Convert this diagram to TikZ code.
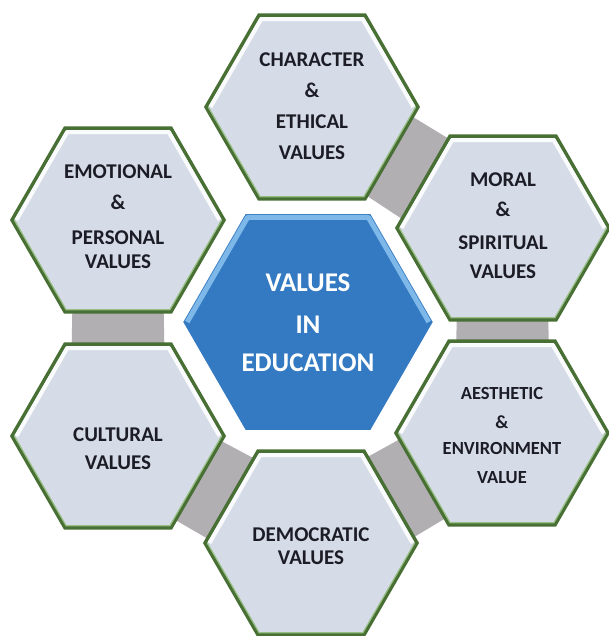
\documentclass[tikz,border=0pt]{standalone}
\usepackage{fontspec}
\setmainfont{Carlito}
\usetikzlibrary{shapes.geometric,calc,backgrounds}
\definecolor{hexfill}{RGB}{214,220,231}
\definecolor{hexline}{RGB}{72,112,52}
\definecolor{hexline2}{RGB}{150,190,130}
\definecolor{cblue}{RGB}{52,122,194}
\definecolor{cbluelight}{RGB}{140,195,240}
\definecolor{bandgray}{RGB}{178,175,178}
\definecolor{txt}{RGB}{28,28,38}
\begin{document}
\begin{tikzpicture}[x=1pt,y=-1pt,
  hex/.style={regular polygon, regular polygon sides=6, minimum size=212pt, inner sep=0pt,
    draw=hexline, line width=3.5pt, fill=hexfill},
  chex/.style={regular polygon, regular polygon sides=6, minimum size=252pt, inner sep=0pt,
    draw=white, line width=2pt, fill=cblue},
  lbl/.style={font=\fontsize{21}{25}\selectfont\bfseries, text=txt, align=center, inner sep=0pt},
  slbl/.style={font=\fontsize{18.5}{22}\selectfont\bfseries, text=txt, align=center, inner sep=0pt},
  clbl/.style={font=\fontsize{27}{32}\selectfont\bfseries, text=white, align=center, inner sep=0pt},
  bandstyle/.style={fill=bandgray}]
\useasboundingbox (0,0) rectangle (609,636);

% hexagons
\node[hex] (charv) at (312,107) {};
\node[hex] (emot)  at (118,220) {};
\node[hex] (moral) at (503,228) {};
\node[hex] (cult)  at (118,436) {};
\node[hex] (aest)  at (502,433) {};
\node[hex] (demo)  at (311,543) {};
\node[chex] (centre) at (308,322) {};

% background and connecting bands
\begin{scope}[on background layer]
\fill[white] (0,0) rectangle (609,636);
\foreach \a/\b in {charv/moral, emot/cult, moral/aest, cult/demo, aest/demo}{
  \fill[bandstyle] ($(\a.center)!44pt!90:(\b.center)$) -- ($(\a.center)!44pt!-90:(\b.center)$)
    -- ($(\b.center)!48pt!90:(\a.center)$) -- ($(\b.center)!48pt!-90:(\a.center)$) -- cycle;
}
\end{scope}

% bevel highlights
\foreach \n in {charv,emot,moral,cult,aest,demo}{
  \draw[white, line width=4pt, opacity=0.9, line join=round]
    ($(\n.center)!0.94!(\n.corner 6)$) -- ($(\n.center)!0.94!(\n.corner 1)$)
    -- ($(\n.center)!0.94!(\n.corner 2)$) -- ($(\n.center)!0.94!(\n.corner 3)$);
  \draw[hexline2, line width=1.2pt, line join=round]
    ($(\n.center)!0.96!(\n.corner 3)$) -- ($(\n.center)!0.96!(\n.corner 4)$)
    -- ($(\n.center)!0.96!(\n.corner 5)$) -- ($(\n.center)!0.96!(\n.corner 6)$);
}
\draw[cbluelight, line width=5pt, opacity=0.85, line join=round]
  ($(centre.center)!0.95!(centre.corner 6)$) -- ($(centre.center)!0.95!(centre.corner 1)$)
  -- ($(centre.center)!0.95!(centre.corner 2)$) -- ($(centre.center)!0.95!(centre.corner 3)$);

% texts
\node[lbl] (t-charv) at (312,106) {CHARACTER\\[6pt]\&\\[6pt]ETHICAL\\[6pt]VALUES};
\node[lbl] (t-emot) at (118,217) {EMOTIONAL\\[6pt]\&\\[10pt]PERSONAL\\[-1pt]VALUES};
\node[lbl] (t-moral) at (503,226) {MORAL\\[5pt]\&\\[8pt]SPIRITUAL\\[4pt]VALUES};
\node[clbl] (t-centre) at (308,323) {VALUES\\[10pt]IN\\[6pt]EDUCATION};
\node[lbl] (t-cult) at (118,449) {CULTURAL\\[3pt]VALUES};
\node[slbl] (t-aest) at (502,435) {AESTHETIC\\[7pt]\&\\[4pt]ENVIRONMENT\\[7pt]VALUE};
\node[lbl] (t-demo) at (311,546) {DEMOCRATIC\\[-2pt]VALUES};
\end{tikzpicture}
\end{document}
